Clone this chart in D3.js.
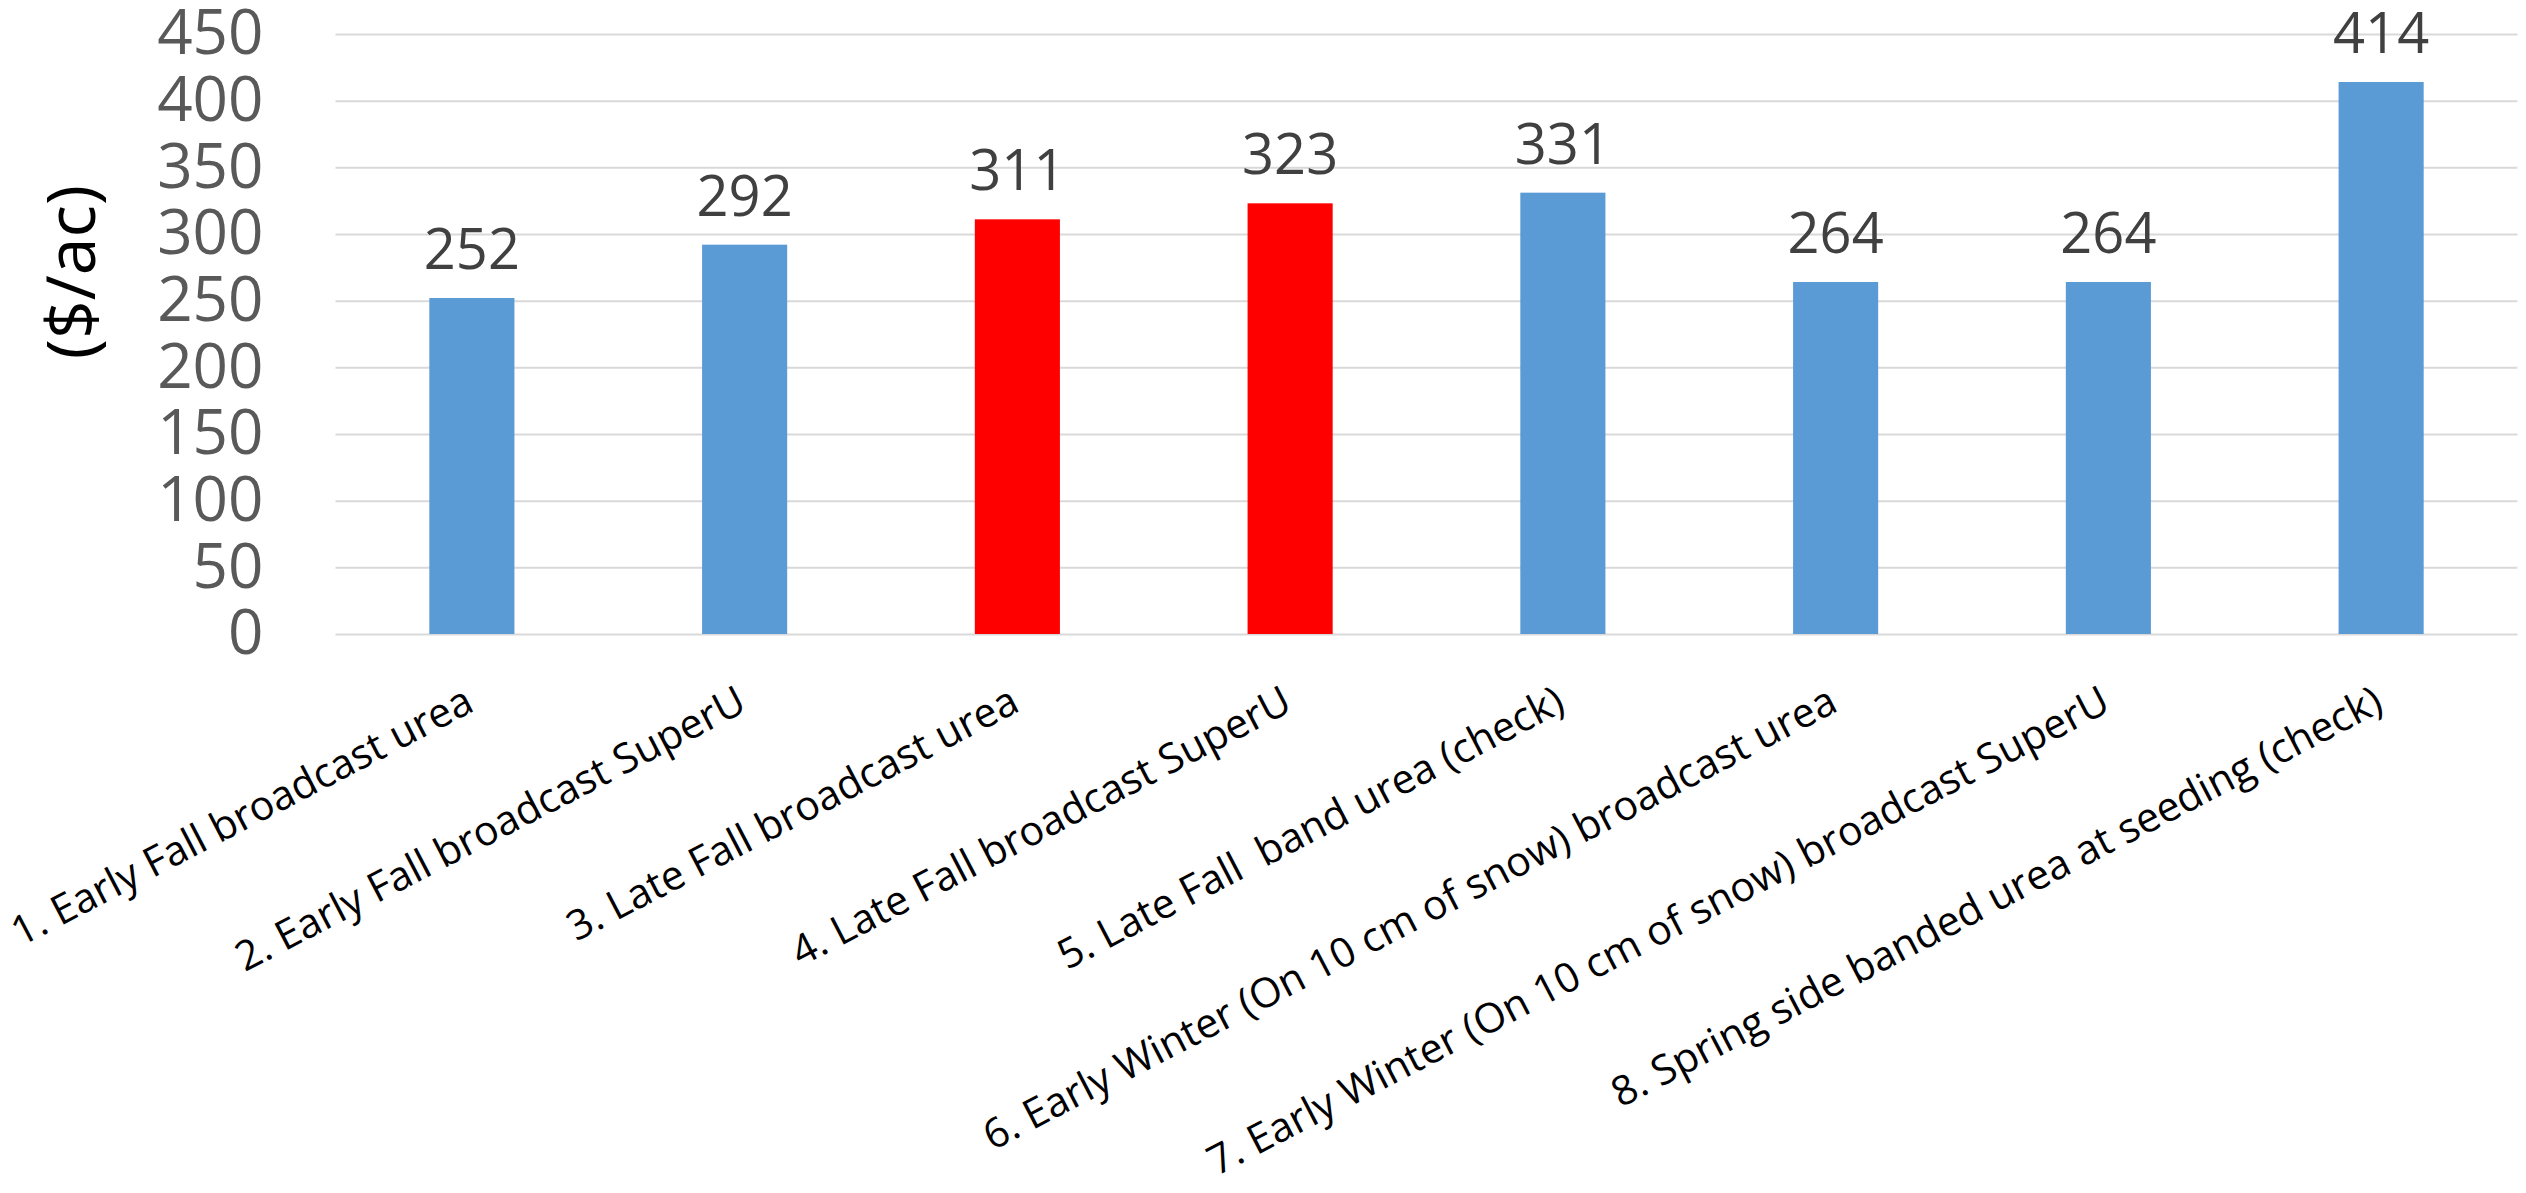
<!DOCTYPE html>
<html>
<head>
<meta charset="utf-8">
<script src="https://cdn.jsdelivr.net/npm/d3@7"></script>
<style>
  body { margin: 0; background: #fff; }
  svg { display: block; font-family: "Open Sans", sans-serif; }
</style>
</head>
<body>
<div id="canvas"></div>
<script>
var categories = [
    "1. Early Fall broadcast urea",
    "2. Early Fall broadcast SuperU",
    "3. Late Fall broadcast urea",
    "4. Late Fall broadcast SuperU",
    "5. Late Fall  band urea (check)",
    "6. Early Winter (On 10 cm of snow) broadcast urea",
    "7. Early Winter (On 10 cm of snow) broadcast SuperU",
    "8. Spring side banded urea at seeding (check)"
];
var costs = [252, 292, 311, 323, 331, 264, 264, 414];
var highlighted = [false, false, true, true, false, false, false, false];
var yTicks = [0, 50, 100, 150, 200, 250, 300, 350, 400, 450];
var yTitle = "($/ac)";

var svgWidth = 2526;
var svgHeight = 1193;
var blueColor = '#5B9BD5';
var redColor = '#FF0000';

var svg = d3.select('#canvas')
    .append('svg')
    .attr('width', svgWidth)
    .attr('height', svgHeight);

var plotLeft = 335.5, plotRight = 2517.5, plotTop = 34, plotBottom = 634;

var x = d3.scaleBand()
    .domain(categories)
    .range([plotLeft, plotRight])
    .paddingInner(0.688)
    .paddingOuter(0.344);

var y = d3.scaleLinear()
    .domain([0, 450])
    .range([plotBottom, plotTop]);

// gridlines + y tick labels
var yAxis = svg.append('g')
    .attr('transform', 'translate(' + plotLeft + ',0)')
    .call(d3.axisLeft(y).tickValues(yTicks).tickSize(-(plotRight - plotLeft)).tickPadding(72));
yAxis.select('.domain').remove();
yAxis.selectAll('line').attr('stroke', '#d9d9d9').attr('stroke-width', 2);
yAxis.selectAll('text')
    .attr('fill', '#595959')
    .attr('font-size', '62px')
    .attr('font-family', '"Open Sans", sans-serif');

// bars
svg.selectAll('.bar')
    .data(costs)
    .enter()
    .append('rect')
    .attr('class', 'bar')
    .attr('x', function(d, i) { return x(categories[i]); })
    .attr('y', function(d) { return y(d); })
    .attr('width', x.bandwidth())
    .attr('height', function(d) { return y(0) - y(d); })
    .attr('fill', function(d, i) { return highlighted[i] ? redColor : blueColor; });

// value labels
svg.selectAll('.valueLabel')
    .data(costs)
    .enter()
    .append('text')
    .attr('class', 'valueLabel')
    .attr('x', function(d, i) { return x(categories[i]) + x.bandwidth() / 2; })
    .attr('y', function(d) { return y(d) - 29; })
    .attr('text-anchor', 'middle')
    .attr('fill', '#404040')
    .attr('font-size', '56px')
    .text(function(d) { return d; });

// x axis labels (rotated)
var xAxis = svg.append('g')
    .attr('transform', 'translate(0,' + plotBottom + ')')
    .call(d3.axisBottom(x).tickSize(0));
xAxis.select('.domain').remove();
xAxis.selectAll('text')
    .attr('x', 0)
    .attr('y', 0)
    .attr('dy', 0)
    .attr('text-anchor', 'end')
    .attr('transform', 'translate(4,76) rotate(-27.5)')
    .attr('fill', '#000')
    .attr('font-size', '41px')
    .attr('font-family', '"Open Sans", sans-serif')
    .style('white-space', 'pre');

// y axis title
svg.append('text')
    .attr('transform', 'translate(77,272) rotate(-90)')
    .attr('dy', '0.27em')
    .attr('text-anchor', 'middle')
    .attr('fill', '#000')
    .attr('font-size', '68px')
    .text(yTitle);
</script>
</body>
</html>
